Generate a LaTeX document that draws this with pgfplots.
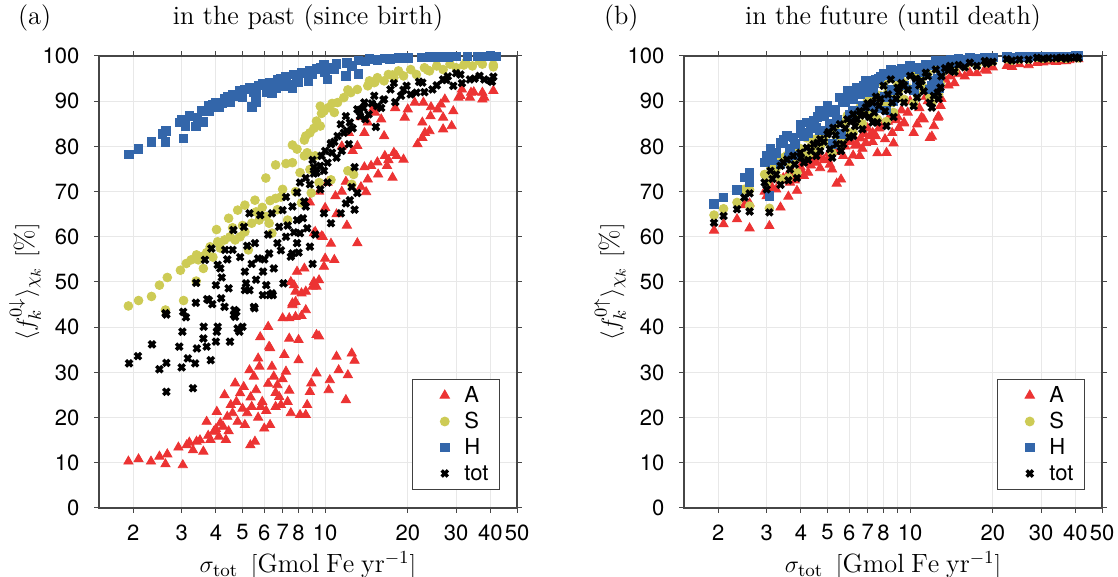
\documentclass[border=0pt]{standalone}
\usepackage{fontspec}
\usepackage{pgfplots}
\usepackage{pgfplotstable}
\pgfplotsset{compat=1.18}
\newfontfamily\heros{TeX Gyre Heros}
\definecolor{cA}{RGB}{236,51,51}
\definecolor{cS}{RGB}{205,203,85}
\definecolor{cH}{RGB}{51,102,170}
\definecolor{axgray}{RGB}{70,70,70}

\pgfplotstableread{
x tot S H A
1.93 63.1 64.8 67.3 61.4
2.09 64.6 66.2 68.7 62.8
2.34 66.1 67.6 70.4 63.9
2.49 68.7 70.5 73.1 67.0
2.60 69.6 70.4 74.2 67.4
2.60 65.6 66.8 72.2 61.9
3.07 65.4 66.3 69.0 62.4
2.95 72.0 73.8 76.5 70.0
3.00 70.5 72.0 77.9 69.0
3.10 74.6 75.5 79.4 71.5
3.15 72.8 74.0 77.0 70.8
3.25 73.8 75.0 78.5 70.5
3.37 71.5 72.8 76.0 66.5
3.37 75.7 77.0 80.8 72.5
3.45 76.5 77.5 81.5 73.0
3.56 77.1 78.0 82.3 73.5
3.60 72.5 73.1 77.5 68.9
3.65 74.9 76.0 79.5 72.0
3.75 77.9 78.8 82.0 74.0
3.80 76.0 77.0 80.5 72.5
3.87 73.0 74.2 78.0 70.2
3.98 78.6 79.5 84.9 75.5
4.00 77.5 78.5 83.0 74.8
4.10 76.4 77.8 82.3 73.5
4.20 79.7 81.9 85.3 76.4
4.25 77.0 78.0 83.0 74.2
4.35 79.0 80.0 84.5 75.8
4.45 80.5 81.5 85.6 77.0
4.55 77.9 79.0 84.1 76.4
4.60 80.8 81.8 86.5 77.8
4.70 81.6 82.5 87.8 77.5
4.70 79.0 80.0 83.5 75.2
4.85 81.0 82.0 86.8 77.0
5.00 82.7 83.5 88.9 77.1
5.05 83.2 84.0 87.5 78.5
5.10 79.4 80.5 85.0 76.0
5.20 77.5 78.5 80.5 74.9
5.25 84.1 85.0 88.2 79.5
5.35 82.5 83.5 88.0 78.8
5.40 80.5 81.5 86.0 71.8
5.55 84.9 85.5 90.8 80.5
5.60 79.0 80.5 82.7 72.7
5.70 80.5 81.6 89.7 77.9
5.80 84.0 85.0 90.0 80.0
5.90 86.0 86.8 92.3 81.5
6.00 82.0 83.0 87.0 76.4
6.10 85.5 86.5 91.0 81.0
6.20 87.1 87.8 90.4 82.3
6.20 82.3 83.0 88.0 78.0
6.30 84.5 85.5 91.5 80.2
6.40 86.0 87.0 93.0 80.5
6.55 87.8 88.5 91.5 77.9
6.60 86.8 87.8 92.0 81.8
6.70 83.8 85.0 89.0 79.5
6.80 87.0 88.0 93.5 82.8
6.90 88.6 89.3 94.5 80.8
7.00 89.5 90.2 93.8 84.0
7.10 86.5 87.5 92.0 82.3
7.30 89.7 90.5 92.6 83.0
7.30 85.3 86.5 89.0 81.0
7.40 87.5 88.5 94.0 82.5
7.50 91.0 91.5 94.8 82.3
7.60 85.3 86.0 88.5 78.5
7.70 89.0 89.8 95.0 84.0
7.80 90.5 91.2 95.5 84.5
8.00 93.4 93.8 96.0 85.0
8.10 87.8 89.0 91.0 81.6
8.20 84.5 85.5 88.0 78.6
8.30 91.5 92.0 95.8 85.5
8.50 94.8 95.2 97.0 87.0
8.60 89.7 89.7 92.5 83.0
8.70 86.5 87.5 90.0 80.7
8.90 90.5 91.2 96.0 85.8
9.00 93.0 93.5 96.8 86.5
9.10 92.0 92.5 95.5 84.1
9.30 94.0 94.5 97.2 88.0
9.50 89.7 90.4 93.5 85.3
9.50 93.5 94.0 96.5 85.1
9.80 92.5 93.0 96.8 87.5
10.0 95.6 96.0 97.8 90.0
10.3 88.9 89.5 92.5 83.0
10.5 95.0 95.5 97.5 89.0
10.6 90.8 91.5 94.0 84.9
10.8 93.5 94.0 97.2 88.5
11.0 94.5 95.0 97.0 86.4
11.2 92.2 93.0 96.5 86.0
11.4 96.3 96.6 98.0 91.0
11.6 95.5 96.0 98.0 90.0
11.8 89.7 91.0 92.6 81.9
12.0 88.6 89.5 93.5 82.2
12.2 91.2 91.5 94.5 84.5
12.4 97.0 97.3 98.9 92.0
12.6 91.9 92.3 95.0 86.4
12.7 90.5 91.5 93.0 86.6
12.9 93.0 93.8 96.0 89.0
13.0 95.5 96.0 97.5 90.5
13.4 97.3 97.6 99.0 94.8
13.8 96.8 97.2 98.8 93.5
14.0 97.8 98.0 99.2 95.5
14.5 96.5 96.8 98.5 94.0
15.0 98.0 98.3 99.3 96.0
15.8 97.5 97.8 99.2 95.5
16.5 98.5 98.7 99.6 96.3
17.5 97.8 98.0 99.3 96.2
18.7 98.9 99.0 99.7 97.0
19.0 98.3 98.5 99.5 96.8
20.0 98.7 98.9 99.7 97.5
22.5 99.3 99.4 99.8 97.8
23.5 99.0 99.1 99.7 97.6
25.0 99.2 99.3 99.8 98.2
27.0 99.2 99.3 99.8 98.0
29.0 99.6 99.7 99.9 98.5
30.5 99.4 99.5 99.9 98.6
32.0 99.5 99.6 99.9 98.8
34.0 99.5 99.6 99.9 98.7
35.5 99.6 99.7 99.9 98.9
37.0 99.4 99.5 99.9 98.9
38.0 99.6 99.7 99.95 99.1
40.0 99.7 99.8 100.0 99.4
41.0 99.5 99.6 100.0 99.3
}\futuretab

\pgfplotsset{
  sA/.style={only marks, mark=triangle*, mark size=2.65pt, color=cA},
  sS/.style={only marks, mark=*, mark size=2.2pt, color=cS},
  sH/.style={only marks, mark=square*, mark size=2.15pt, color=cH},
  sT/.style={only marks, mark=x, mark size=2.2pt, color=black, line width=1.7pt, mark options={line width=1.7pt}},
}

\begin{document}
\begin{tikzpicture}
\useasboundingbox (-49.5pt,-34.5pt) rectangle (509.5pt,254pt);

\begin{axis}[at={(0pt,0pt)}, anchor=south west,
    width=209pt, height=226pt, scale only axis,
    xmode=log, xmin=1.5, xmax=50, ymin=0, ymax=100,
    xtick={2,3,4,5,6,7,8,9,10,20,30,40,50},
    xticklabels={2,3,4,5,6,7,8,,10,20,30,40,50},
    ytick={0,10,...,100},
    tick align=outside, major tick length=2.3pt,
    xtick pos=both, ytick pos=both,
    axis line style={axgray, line width=0.6pt},
    major tick style={axgray, line width=0.5pt},
    grid=major, major grid style={black!9, line width=0.5pt},
    clip=false,
    /pgf/number format/assume math mode=true,
    tick label style={font=\heros\fontsize{11}{13}\selectfont},
    xticklabel style={yshift=-2.5pt},
    yticklabel style={xshift=-4pt},
    label style={font=\fontsize{13.2}{15}\selectfont},
    title style={font=\fontsize{13.2}{15}\selectfont, at={(0.5,1)}, anchor=base, yshift=9.5pt},
    xlabel style={at={(axis description cs:0.5,0)}, anchor=center, yshift=-28.5pt},
    ylabel style={at={(axis description cs:0,0.5)}, anchor=center, yshift=37pt},
    legend style={at={(1,0)}, anchor=south east, xshift=-8.5pt, yshift=9pt,
      draw=black!75, line width=0.5pt, font=\heros\fontsize{11}{13}\selectfont,
      inner xsep=4.5pt, inner ysep=1.5pt,
      nodes={inner xsep=1pt, inner ysep=2.25pt, text height=8pt, text depth=0.5pt},
      /tikz/every even column/.append style={column sep=7pt}},
    legend cell align=left,
    legend image code/.code={\path (-11pt,0pt) (8pt,0pt); \draw[mark repeat=2,mark phase=2,#1] plot coordinates {(-1pt,0pt) (0pt,0pt) (1pt,0pt)};},
  title={in the past (since birth)},
  xlabel={$\sigma_{\mathrm{tot}}\ \,[\mathrm{Gmol\;Fe\;yr^{-1}}]$},
  ylabel={$\langle f_k^{0\downarrow}\rangle_{\chi_k}\ [\%]$}]
\addplot[sA] coordinates {
(1.92,10.3) (2.09,10.8) (2.32,10.3) (2.49,11.4) (2.62,9.7) (2.66,11.9) (3.03,9.5) (2.92,13.4) (3.13,13.9) (3.3,12.8)
(3.4,14.7) (3.6,12.5) (3.7,19.1) (3.82,15.1) (3.93,16.9) (4.03,21.3) (4.1,15.8) (4.25,18) (4.3,25) (4.35,15.1)
(4.4,20.2) (4.53,22.8) (4.7,27.6) (4.8,19.1) (4.9,25.4) (5.0,22) (5.05,26.8) (5.1,18.4) (5.3,30.5) (5.34,13.9)
(5.4,22.4) (5.55,14.7) (5.5,29.1) (5.6,26.1) (5.7,33.1) (5.76,31.3) (5.83,22.4) (5.9,23.5) (6.0,17.6) (6.25,35.7)
(6.3,18.4) (6.4,31.3) (6.5,29.1) (6.6,22.4) (6.7,27.2) (6.8,24.6) (6.9,22.8) (7.1,33.9) (7.2,30.2) (7.3,23.5)
(8.0,32.7) (8.1,20.6) (8.5,20.6) (8.6,22.8) (8.8,25.7) (8.9,27.6) (9.3,29.8) (10.3,26.1) (10.4,28.3) (11.0,33.5)
(11.2,30.5) (11.9,23.9) (12.1,29.4) (12.5,34.2) (12.8,32.6)
(3.2,14.5) (3.5,15) (3.75,16) (4.0,17.5) (4.15,18.8) (4.45,17) (4.6,21) (4.75,23.5) (5.2,21) (5.35,24.5)
(5.7,20) (6.1,21.5) (6.2,27.5) (6.6,25.5) (7.0,28.5) (7.4,26) (7.5,21) (5.8,37.8)
(6.2,40.1) (6.3,35.4) (7.0,42) (7.4,42) (7.8,42.3) (8.2,42.5) (7.6,44.9) (7.8,45.6) (7.7,49.3) (8.2,47.5)
(9.0,49) (9.1,50) (9.3,38.3) (8.0,37.2) (7.4,37.5) (9.5,38) (7.9,52.3) (8.4,53) (9.9,53.4) (10.0,55.2)
(10.8,54.9) (9.5,50.4) (7.5,50) (9.3,49) (7.8,47.9) (8.5,47.9) (7.6,45.3) (8.5,43.8) (13.1,58.6) (9.2,61.1)
(9.8,60) (9.1,60.8) (9.7,60.1) (10.0,66.4) (10.9,69) (11.5,70) (11.9,72.2) (8.8,67.6) (9.5,70) (10.2,72)
(12.6,79) (13.1,80.1) (13.9,83) (14.3,85.3) (15.2,87.5) (14.1,69.9) (14.3,72.7) (14.7,75.7) (15.6,73.8) (16.5,77.9)
(16.8,75.7) (17.8,78.6) (18.2,77.9) (19.3,77.1) (17.6,73.1) (16.4,82.3) (21.7,80.5) (22.6,81.9) (23.1,83) (24,83.4)
(22.6,85.3) (24.2,86.7) (26.9,83.8) (28.9,84.5) (26.9,86.4) (29.3,87.8) (25.7,88.2) (26.4,89.3) (27.3,90.4) (31.1,91.2)
(33.7,90.8) (31.5,92.6) (34,91.9) (37.4,90.4) (37.4,91.9) (20,88.2) (21.2,89.7) (22.8,89.7) (19.5,86.4) (13.9,75.4)
(15.5,76.5) (17,77) (13.5,71) (11.0,65) (12.0,62.5) (10.5,58.5) (38,90.8) (41,92.3) (34.8,92) (30.6,90.8) (24.3,88.7)
(11.5,80) (12.2,83) (13.5,86.5) (15,88.5) (16,86) (18,88.5)
};
\addlegendentry{A}
\addplot[sS] coordinates {
(1.92,44.7) (2.09,45.9) (2.33,46.8) (2.62,43.8) (2.49,49.3) (2.66,51) (3.05,45.9) (2.97,52.6) (3.12,54.1) (3.25,54.9)
(3.4,56) (3.45,54.9) (3.55,55.6) (3.39,50.2) (3.81,57.8) (4.02,61.6) (4.06,58.9) (4.3,59.3) (4.5,60) (4.7,59.3)
(4.9,60) (5.1,61.1) (5.4,63) (5.75,63.7) (6.1,64.5) (6.4,60.8) (6.25,63) (5.25,57.1) (4.45,64.1) (4.8,65.9)
(5.1,67) (5.55,68.1) (6.3,68) (6.6,68.5) (7.3,63.7)
(3.6,53) (3.7,56.5) (3.9,55.5) (4.15,57.5) (4.6,62) (5.0,62.5) (5.6,65.5) (5.9,66.5) (6.7,66) (6.9,68.8)
(6.08,73) (6.6,75.9) (7.2,76.2) (7.6,80.3) (8.4,81.4) (9.1,84) (9.7,87.3) (10.6,89.5) (12.1,92.5) (15.2,94.3)
(17.6,95.8) (23.6,96.9) (32,98) (41,98) (7.6,76.4) (7.9,79.4) (8.1,74.2) (8.4,77.9) (8.6,78.6) (8.8,74.9)
(9.2,77.9) (8.5,82.3) (8.8,83) (9.6,84.5) (9.3,85.6) (9.9,87.8) (10.3,88.6) (9.6,88.9) (10.8,87.5) (11.1,89.7)
(11.7,90.8) (12.4,91.9) (13.1,92.6) (14.3,93.4) (15.1,94.1) (16.4,94.5) (17.8,95.2) (19.3,95.6) (21.5,95.9) (24,96.7)
(26.9,97) (30,97.4) (34.4,97.8) (37.4,98.2) (14.5,94.5) (15.5,95.2) (17,95.9) (18.5,96.7) (20.5,97) (23,97.4)
(25.5,97.8) (28.5,98.2) (32.5,98.5) (36.5,98.9) (41,97.6)
(12.7,73.8) (12.5,71.6) (8.9,69.7) (10.5,72.6) (12.1,74.6) (7.8,70) (8.2,67.5) (7.0,70.5) (9.5,72)
};
\addlegendentry{S}
\addplot[sH] coordinates {
(1.93,78.2) (2.09,79.5) (2.33,81) (2.55,82.8) (2.62,81) (2.63,83.4) (3.05,81.8) (2.96,85.3) (3.0,86) (3.1,84.5)
(3.39,84.4) (3.6,85.4) (3.43,86.4) (3.56,87.8) (3.76,88.9) (4.0,89.7) (4.3,90.6) (4.6,91.5) (4.9,92.4) (5.3,93)
(5.75,93.5) (6.3,94.1) (6.7,94.8) (7.2,95.4) (7.7,95.9) (3.78,87.8) (4.1,88.6) (4.5,89.7) (5.0,90.8) (5.6,91.7)
(6.1,92) (6.6,93) (7.4,93.7) (5.4,88.8) (5.6,89.7) (6.4,91.9) (7.2,93.4) (7.6,93) (8.2,96.2) (8.7,94.5)
(8.8,96.8) (9.3,97.2) (9.9,98) (10.2,94.8) (10.5,97.5) (11,98.3) (11.9,95.6) (12,98.5) (13.2,96) (13.2,99)
(14,98.8) (14.5,99.3) (15.5,99.2) (16.5,99.5) (17.2,99.4) (18.5,99.6) (20,99.6) (22.4,99.7) (24,99.8) (26,99.8)
(28,99.85) (30,99.9) (33,99.9) (36,99.95) (38.4,99.9) (40,100) (42,99.9)
(3.2,86.8) (3.9,89.2) (4.2,89.5) (4.4,91) (4.8,91.2) (5.1,92.6) (5.5,92.1) (5.9,93.8) (6.2,93) (6.9,95)
(7.0,94) (7.9,95.5) (8.0,94.2) (8.4,96.4) (9.0,96) (9.6,97.5) (10.0,96.5) (10.8,97) (12.5,97.8)
};
\addlegendentry{H}
\addplot[sT] coordinates {
(1.93,32) (2.08,33.6) (2.34,36.2) (2.49,30.7) (2.64,32.1) (2.64,25.7) (2.64,42.8) (2.94,35.7) (3.0,31.1) (3.02,39)
(3.04,43.4) (3.11,42.2) (3.16,33.1) (3.3,26.5) (3.36,32) (3.38,45.4) (3.41,35.3) (3.6,37.5) (3.61,40.1) (3.7,35.7)
(3.77,46) (3.83,32.7) (4.0,36.8) (4.03,39) (4.06,40.1) (4.18,46.4) (4.3,44.5) (4.5,36.8) (4.7,42.3) (4.75,43.4)
(4.87,39) (5.0,40.1) (5.3,48.2) (5.53,44.2) (5.93,47.1) (6.28,47.1) (6.4,47.5)
(2.62,43.1) (3.39,49.8) (3.65,54.9) (3.72,46.2) (3.85,57.4) (3.88,45.1) (4.0,49.3) (4.06,53.8) (4.15,53) (4.32,57.1)
(4.45,48.6) (4.6,57.1) (4.63,61.5) (4.65,42.7) (4.67,43.8) (4.8,39.7) (5.06,62.2) (5.1,52.3) (5.1,48.2) (5.15,49.7)
(5.3,65.2) (5.5,44.5) (5.55,58.6) (5.7,55.2) (5.8,64.8) (5.94,52.3) (6.1,49.3) (6.25,56.3) (6.4,65.2) (6.45,47.1)
(6.7,58.6) (6.8,62.2) (7.0,65.9) (7.05,49.7) (7.2,60) (7.5,55.6) (7.6,66.7) (7.9,58.6) (8.3,64.1) (8.4,67.8) (8.6,61.9)
(4.2,51) (4.4,55) (4.9,55.5) (5.2,58) (5.4,54) (5.6,50.5) (6.0,55) (6.2,60.5) (6.5,53) (6.9,57)
(7.3,62.5) (7.7,61) (8.0,56.5) (8.8,57.8) (9.9,65.2) (11.9,67.4) (11.4,65.2) (8.1,60.8) (10.5,63) (7.9,63.7)
(8.5,66.7) (7.6,56.3) (9.2,60.5) (9.0,54) (12.3,68.1) (13.1,69.7) (12.8,66)
(7.9,69.8) (8.1,72) (8.8,71.6) (9.3,74.2) (9.6,75.7) (9.7,77.9) (9.9,74.6) (10.2,76.4) (10.5,80.5) (10.6,78.6)
(11.1,82.3) (11.4,84.9) (11.7,83) (11.9,86.7) (12.3,85.3) (13.1,88.2) (13.4,86.7) (13.9,89.7) (14.4,87.1) (15.1,91.2)
(15.5,88.9) (16.4,90.4) (17.3,92.6) (18.9,91.2) (19.8,93.4) (21.5,91.9) (22.6,94.1) (24.6,92.6) (26.9,94.8) (29.3,93.4)
(31.1,95.9) (33.7,94.8) (36.5,95.6) (40.5,94.3) (41,95.4)
(7.2,68.8) (9.1,75.4) (9.1,74) (10.5,80.7) (11.5,79) (12.8,75.4) (13.3,88) (14,86) (15.3,84.3) (16.3,90.3)
(17.8,94) (19.3,92.5) (22,94.3) (23,92) (27.6,94.7) (30,96.2) (31.5,94) (40,94.5) (8.5,73) (9.0,77)
(10.0,79) (10.8,81) (12.0,83.5) (12.6,84) (13.8,88.5) (14.8,89.5) (16,88.5) (18,89.8) (20.5,91.5) (25.5,93.5)
(28,95.5) (35,95) (38,94.8) (11.0,77.5) (12.2,80.5) (10.2,72) (9.6,70.5) (12.5,71)
};
\addlegendentry{tot}
\end{axis}

\begin{axis}[at={(292.5pt,0pt)}, anchor=south west,
    width=209pt, height=226pt, scale only axis,
    xmode=log, xmin=1.5, xmax=50, ymin=0, ymax=100,
    xtick={2,3,4,5,6,7,8,9,10,20,30,40,50},
    xticklabels={2,3,4,5,6,7,8,,10,20,30,40,50},
    ytick={0,10,...,100},
    tick align=outside, major tick length=2.3pt,
    xtick pos=both, ytick pos=both,
    axis line style={axgray, line width=0.6pt},
    major tick style={axgray, line width=0.5pt},
    grid=major, major grid style={black!9, line width=0.5pt},
    clip=false,
    /pgf/number format/assume math mode=true,
    tick label style={font=\heros\fontsize{11}{13}\selectfont},
    xticklabel style={yshift=-2.5pt},
    yticklabel style={xshift=-4pt},
    label style={font=\fontsize{13.2}{15}\selectfont},
    title style={font=\fontsize{13.2}{15}\selectfont, at={(0.5,1)}, anchor=base, yshift=9.5pt},
    xlabel style={at={(axis description cs:0.5,0)}, anchor=center, yshift=-28.5pt},
    ylabel style={at={(axis description cs:0,0.5)}, anchor=center, yshift=37pt},
    legend style={at={(1,0)}, anchor=south east, xshift=-8.5pt, yshift=9pt,
      draw=black!75, line width=0.5pt, font=\heros\fontsize{11}{13}\selectfont,
      inner xsep=4.5pt, inner ysep=1.5pt,
      nodes={inner xsep=1pt, inner ysep=2.25pt, text height=8pt, text depth=0.5pt},
      /tikz/every even column/.append style={column sep=7pt}},
    legend cell align=left,
    legend image code/.code={\path (-11pt,0pt) (8pt,0pt); \draw[mark repeat=2,mark phase=2,#1] plot coordinates {(-1pt,0pt) (0pt,0pt) (1pt,0pt)};},
  title={in the future (until death)},
  xlabel={$\sigma_{\mathrm{tot}}\ \,[\mathrm{Gmol\;Fe\;yr^{-1}}]$},
  ylabel={$\langle f_k^{0\uparrow}\rangle_{\chi_k}\ [\%]$}]
\addplot[sA] table[x=x, y=A] {\futuretab};
\addlegendentry{A}
\addplot[sS] table[x=x, y=S] {\futuretab};
\addlegendentry{S}
\addplot[sH] table[x=x, y=H] {\futuretab};
\addlegendentry{H}
\addplot[sT] table[x=x, y=tot] {\futuretab};
\addlegendentry{tot}
\end{axis}

\node[font=\fontsize{13.2}{15}\selectfont, anchor=base west] at (-44pt,241.5pt) {(a)};
\node[font=\fontsize{13.2}{15}\selectfont, anchor=base west] at (249pt,241.5pt) {(b)};
\end{tikzpicture}
\end{document}
